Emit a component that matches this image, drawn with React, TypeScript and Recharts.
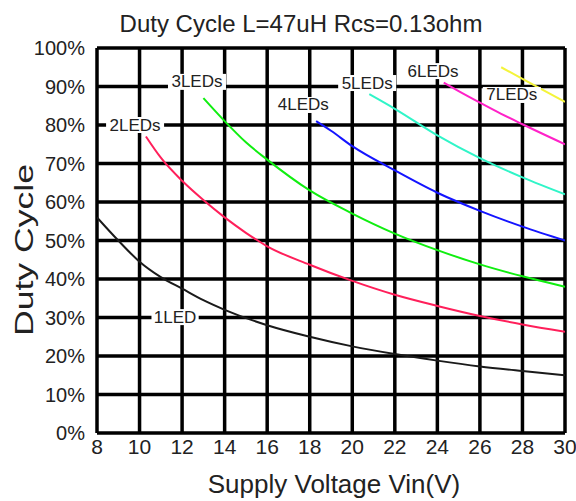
import { LineChart, Line, XAxis, YAxis, CartesianGrid, ReferenceDot } from "recharts";

const VIN_TICKS = [8, 10, 12, 14, 16, 18, 20, 22, 24, 26, 28, 30];
const DUTY_TICKS = [0, 10, 20, 30, 40, 50, 60, 70, 80, 90, 100];

// [Vin, duty %]
const LED1 = [[8, 56], [9, 50], [10, 44.5], [11, 40.5], [12, 37.5], [13, 34.5], [14, 32], [16, 28], [18, 25], [20, 22.5], [22, 20.5], [24, 18.8], [26, 17.3], [28, 16.1], [30, 15]];
const LED2 = [[10.3, 77], [11, 71.5], [12, 65.5], [13, 60.5], [14, 56], [15, 52], [16, 48.5], [18, 43.7], [20, 39.5], [22, 35.9], [24, 33], [26, 30.4], [28, 28.2], [30, 26.3]];
const LED3 = [[13, 87], [14, 81], [15, 75.5], [16, 71], [18, 63], [20, 57], [22, 51.8], [24, 47.5], [26, 43.8], [28, 40.7], [30, 38]];
const LED4 = [[18.3, 81], [19, 78.5], [20, 74.5], [22, 68.2], [24, 62.4], [26, 57.7], [28, 53.6], [30, 50]];
const LED5 = [[20.8, 88], [22, 84.2], [24, 77.3], [26, 71.4], [28, 66.4], [30, 62]];
const LED6 = [[24.3, 91], [25, 88.8], [26, 85.8], [27, 82.9], [28, 80.2], [30, 75]];
const LED7 = [[27, 95], [28, 92], [29, 89], [30, 86]];

const SERIES = [
  { name: "1LED", pts: LED1, color: "#1a1a1a" },
  { name: "2LEDs", pts: LED2, color: "#ff1f5a" },
  { name: "3LEDs", pts: LED3, color: "#10ee10" },
  { name: "4LEDs", pts: LED4, color: "#1414ff" },
  { name: "5LEDs", pts: LED5, color: "#30f5c8" },
  { name: "6LEDs", pts: LED6, color: "#ff22c8" },
  { name: "7LEDs", pts: LED7, color: "#f4f43a" },
];

// curve tags, placed in data units
const TAGS = [
  { text: "1LED", vin: 11.67, duty: 30.1 },
  { text: "2LEDs", vin: 9.79, duty: 80 },
  { text: "3LEDs", vin: 12.7, duty: 91.2 },
  { text: "4LEDs", vin: 17.7, duty: 85.2 },
  { text: "5LEDs", vin: 20.7, duty: 90.9 },
  { text: "6LEDs", vin: 23.8, duty: 94 },
  { text: "7LEDs", vin: 27.5, duty: 87.8 },
];

const FONT = '"Liberation Sans", Arial, sans-serif';
const TICK = { fontSize: 20, fill: "#222", fontFamily: FONT } as const;
const XTICK = { ...TICK, fontSize: 21 } as const;

function Tag({ cx, cy, text }: { cx: number; cy: number; text: string }) {
  const w = text.length * 10.8 + 4;
  return (
    <g>
      <rect x={cx - w / 2} y={cy - 8} width={w} height={16} fill="#fff" />
      <text x={cx} y={cy} textAnchor="middle" dominantBaseline="central" fontSize={17} fontFamily={FONT} fill="#222">{text}</text>
    </g>
  );
}

export default function App() {
  return (
    <div style={{ position: "absolute", left: 0, top: 0, width: 576, height: 501, background: "#fff" }}>
      <LineChart width={576} height={501} margin={{ top: 48, right: 11, bottom: 0, left: 0 }}>
        <CartesianGrid stroke="#000" strokeWidth={3.5} />
        <XAxis type="number" dataKey="vin" domain={[8, 30]} ticks={VIN_TICKS} allowDataOverflow
          axisLine={false} tickLine={false} tickSize={0} tickMargin={6} height={68} tick={XTICK} />
        <YAxis type="number" domain={[0, 100]} ticks={DUTY_TICKS} tickFormatter={(v) => `${v}%`}
          axisLine={false} tickLine={false} tickSize={0} tickMargin={12} width={97} tick={TICK} />
        {SERIES.map((s) => (
          <Line key={s.name} data={s.pts.map(([vin, duty]) => ({ vin, duty }))} dataKey="duty" type="monotone"
            stroke={s.color} strokeWidth={2} dot={false} isAnimationActive={false} />
        ))}
        {TAGS.map((t) => (
          <ReferenceDot key={t.text} x={t.vin} y={t.duty} ifOverflow="visible"
            shape={(p: any) => <Tag cx={p.cx} cy={p.cy} text={t.text} />} />
        ))}
      </LineChart>
      <svg width={576} height={501} style={{ position: "absolute", left: 0, top: 0, pointerEvents: "none" }}>
        <text x={301} y={32} textAnchor="middle" fontSize={24} fontFamily={FONT} fill="#222">Duty Cycle L=47uH Rcs=0.13ohm</text>
        <text x={334} y={493} textAnchor="middle" fontSize={26} fontFamily={FONT} fill="#222">Supply Voltage Vin(V)</text>
        <text transform="translate(33,250) rotate(-90)" textAnchor="middle" fontSize={25} fontFamily={FONT} fill="#222"
          textLength={172} lengthAdjust="spacingAndGlyphs">Duty Cycle</text>
      </svg>
    </div>
  );
}
